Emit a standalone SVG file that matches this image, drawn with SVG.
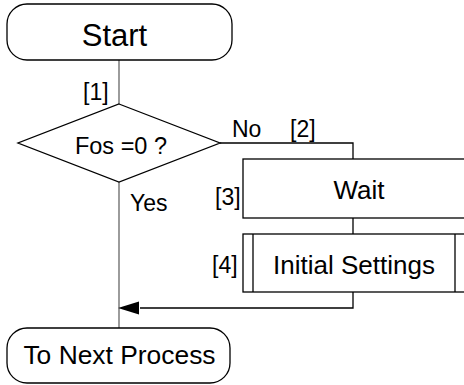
<svg xmlns="http://www.w3.org/2000/svg" width="464" height="385" viewBox="0 0 464 385">
<defs>
<style>
.shape{fill:#fff;stroke:#000;stroke-width:1.3}
.conn{fill:none;stroke:#000;stroke-width:1.3}
.grey{fill:none;stroke:#666;stroke-width:1.3}
text{font-family:"Liberation Sans",Arial,sans-serif;fill:#000}
.t{font-size:26px;text-anchor:middle}
.l{font-size:23px}
</style>
</defs>
<g id="connectors">
<line class="grey" x1="119" y1="60" x2="119" y2="104"/>
<line class="grey" x1="119" y1="182" x2="119" y2="328"/>
<polyline class="conn" points="220,143 353,143 353,159"/>
<line class="conn" x1="353" y1="218" x2="353" y2="234"/>
<polyline class="conn" points="353,292 353,308 140,308"/>
<path d="M139,301.5 L118,308 L139,314.5 Z" fill="#000"/>
<text class="l" x="83" y="100">[1]</text>
<text class="l" x="232" y="137">No</text>
<text class="l" x="290" y="137">[2]</text>
<text class="l" x="130" y="211">Yes</text>
<text class="l" x="215" y="205">[3]</text>
<text class="l" x="212" y="273">[4]</text>
</g>
<g id="start">
<rect class="shape" x="7" y="4" width="225" height="56" rx="20" ry="20"/>
<text class="t" x="114.5" y="46" style="font-size:31px">Start</text>
</g>
<g id="decision">
<polygon class="shape" points="119,104 220,143 119,182 18,143"/>
<text class="t" x="121" y="154" style="font-size:23.5px">Fos =0 ?</text>
</g>
<g id="wait">
<rect class="shape" x="243" y="159" width="240" height="59"/>
<text class="t" x="359" y="199">Wait</text>
</g>
<g id="initial">
<rect class="shape" x="243" y="234" width="230" height="58"/>
<line class="conn" x1="253" y1="234" x2="253" y2="292"/>
<line class="conn" x1="455" y1="234" x2="455" y2="292"/>
<text class="t" x="354" y="274">Initial Settings</text>
</g>
<g id="next">
<rect class="shape" x="7" y="328" width="223" height="55" rx="20" ry="20"/>
<text class="t" x="119.5" y="364" style="font-size:26.4px">To Next Process</text>
</g>
</svg>
